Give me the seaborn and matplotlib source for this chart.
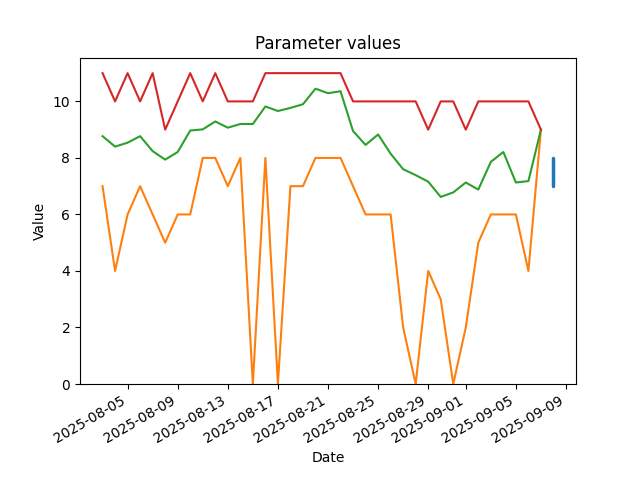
import pandas as pd
import seaborn as sns
import matplotlib.pyplot as plt

# daily values
dates = pd.date_range('2025-08-03', '2025-09-07', freq='D')

green = [8.77, 8.40, 8.54, 8.77, 8.24, 7.94, 8.21, 8.97, 9.01, 9.29, 9.07, 9.20,
         9.20, 9.82, 9.66, 9.77, 9.90, 10.45, 10.29, 10.36, 8.95, 8.46, 8.83, 8.15,
         7.60, 7.39, 7.16, 6.62, 6.78, 7.13, 6.88, 7.86, 8.21, 7.13, 7.18, 9.0]
orange = [7, 4, 6, 7, 6, 5, 6, 6, 8, 8, 7, 8, 0, 8, 0, 7, 7, 8, 8, 8, 7, 6, 6, 6,
          2, 0, 4, 3, 0, 2, 5, 6, 6, 6, 4, 9]
red = [11, 10, 11, 10, 11, 9, 10, 11, 10, 11, 10, 10, 10, 11, 11, 11, 11, 11, 11,
       11, 10, 10, 10, 10, 10, 10, 9, 10, 10, 9, 10, 10, 10, 10, 10, 9]

# the blue series only has two readings, both on the same day
blue_dates = pd.to_datetime(['2025-09-08', '2025-09-08'])
blue = [8, 7]

df_blue = pd.DataFrame({'Date': blue_dates, 'Value': blue})
df = pd.concat([
    pd.DataFrame({'Date': dates, 'Value': orange, 'param': 'B'}),
    pd.DataFrame({'Date': dates, 'Value': green, 'param': 'C'}),
    pd.DataFrame({'Date': dates, 'Value': red, 'param': 'D'}),
], ignore_index=True)

fig, ax = plt.subplots(figsize=(6.4, 4.8), dpi=100)
sns.lineplot(data=df_blue, x='Date', y='Value', color='tab:blue', linewidth=2.5,
             estimator=None, solid_capstyle='round', ax=ax)
sns.lineplot(data=df, x='Date', y='Value', hue='param',
             palette=['tab:orange', 'tab:green', 'tab:red'],
             estimator=None, legend=False, ax=ax)

ax.set_ylim(bottom=0)
ax.set_title('Parameter values')
ax.set_xlabel('Date')
ax.set_ylabel('Value')
fig.autofmt_xdate()

plt.savefig('out.png')
